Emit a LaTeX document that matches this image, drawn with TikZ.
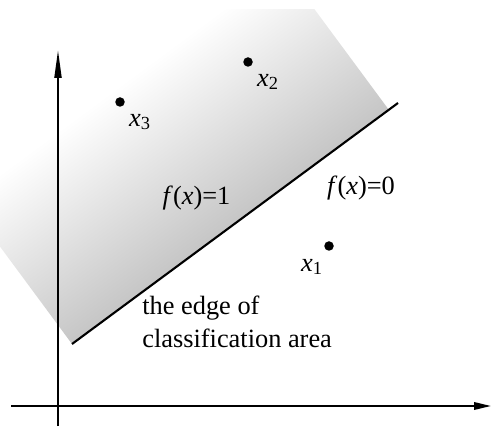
\documentclass[tikz,border=0pt]{standalone}
\usepackage{fontspec}
\setmainfont{Liberation Serif}
\usetikzlibrary{arrows.meta}
\tikzset{
  axis/.style={line width=1.1pt},
  sample/.style={circle,fill,inner sep=0pt,minimum size=0.19cm},
  lbl/.style={inner sep=0pt,font=\fontsize{15}{18.8}\selectfont},
}
\begin{document}
\begin{tikzpicture}
\useasboundingbox (0,0) rectangle (9.82,8.52);
% shaded side of the edge
\begin{scope}
\clip (0,0) rectangle (9.82,8.32);
\begin{scope}[transform canvas={shift={(1.44,1.64)},rotate=36.47}]
\shade[bottom color=gray!45,top color=white] (0,0) rectangle (7.88,3.6);
\end{scope}
\end{scope}
% axes
\coordinate (ybot) at (1.16,0);
\coordinate (ytop) at (1.16,7.52);
\coordinate (xleft) at (0.22,0.4);
\coordinate (xright) at (9.82,0.4);
\draw[axis,-{Triangle[length=0.56cm,width=0.14cm]}] (ybot) -- (ytop);
\draw[axis,-{Triangle[length=0.34cm,width=0.15cm]}] (xleft) -- (xright);
% classification edge
\coordinate (edgeA) at (1.44,1.64);
\coordinate (edgeB) at (7.96,6.46);
\draw[line width=1.2pt] (edgeA) -- (edgeB);
% samples
\node[sample] (x1) at (6.58,3.60) {};
\node[sample] (x2) at (4.96,7.28) {};
\node[sample] (x3) at (2.40,6.48) {};
\node[lbl] (x1lab) at (6.24,3.18) {\textit{x}\textsubscript{1}};
\node[lbl] (x2lab) at (5.36,6.88) {\textit{x}\textsubscript{2}};
\node[lbl] (x3lab) at (2.80,6.08) {\textit{x}\textsubscript{3}};
\node[lbl,anchor=base] (fone) at (3.93,4.42) {\textit{f}(\textit{x})=1};
\node[lbl,anchor=base] (fzero) at (7.22,4.62) {\textit{f}(\textit{x})=0};
\node[lbl,anchor=base west,align=left] (edgelab) at (2.84,1.56)
  {the edge of\\classification area};
\end{tikzpicture}
\end{document}
